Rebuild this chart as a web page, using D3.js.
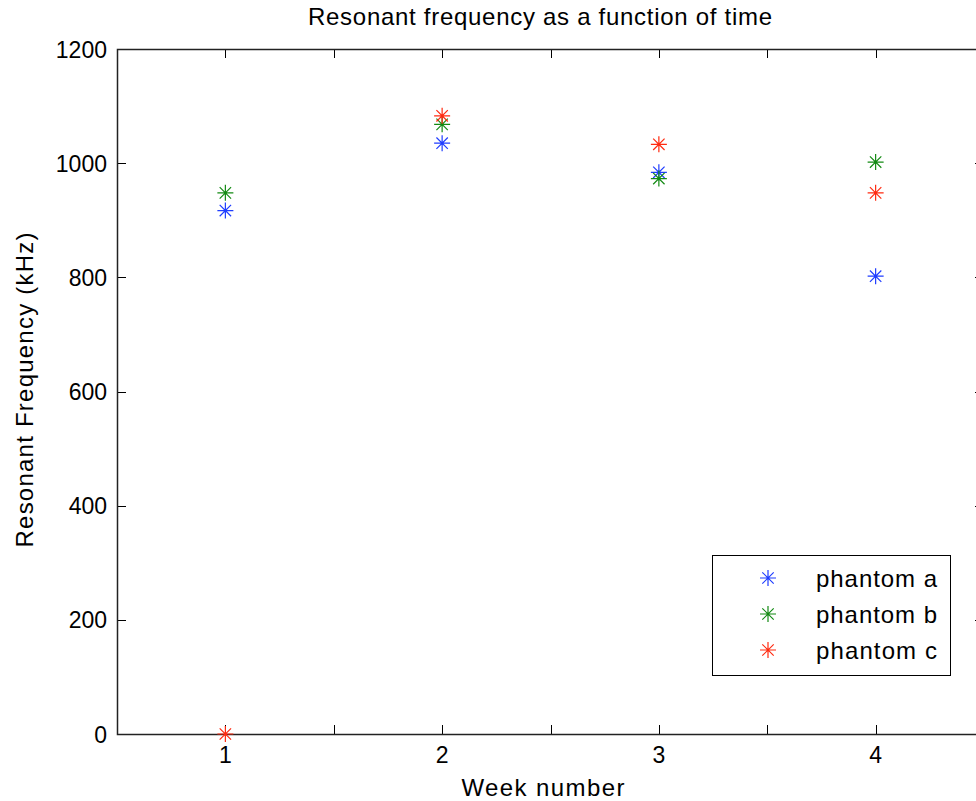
<!DOCTYPE html>
<html><head><meta charset="utf-8">
<script src="https://cdn.jsdelivr.net/npm/d3@7"></script>
<style>body{margin:0;background:#fff;} svg{display:block;font-family:"Liberation Sans",Arial,Helvetica,sans-serif;}</style>
</head><body>
<script>
const weeks = [1, 2, 3, 4];
const phantomA = [917, 1035, 984, 802];
const phantomB = [948, 1068, 973, 1002];
const phantomC = [0, 1083, 1033, 948];
const seriesNames = ["phantom a", "phantom b", "phantom c"];
const seriesColors = ["#1f3dff", "#138a13", "#ff2a10"];
const xTicks = [0.5, 1, 1.5, 2, 2.5, 3, 3.5, 4, 4.5];
const xLabelTicks = [1, 2, 3, 4];
const yTicks = [0, 200, 400, 600, 800, 1000, 1200];

const W = 976, H = 801;
const L = 117, R = 984, T = 49, B = 734;
const svg = d3.select("body").append("svg").attr("width", W).attr("height", H);
const x = d3.scaleLinear().domain([0.5, 4.5]).range([L, R]);
const y = d3.scaleLinear().domain([0, 1200]).range([B, T]);
const series = [phantomA, phantomB, phantomC];
const tickLen = 9, fs = 24, tfs = 23;

// ticks (inward, all four sides)
const g = svg.append("g").attr("stroke", "#000").attr("stroke-width", 1);
xTicks.forEach(v => {
  const px = Math.round(x(v)) + 0.5;
  g.append("line").attr("x1", px).attr("x2", px).attr("y1", B).attr("y2", B - tickLen);
  g.append("line").attr("x1", px).attr("x2", px).attr("y1", T).attr("y2", T + tickLen);
});
yTicks.forEach(v => {
  const py = Math.round(y(v)) + 0.5;
  g.append("line").attr("x1", L).attr("x2", L + tickLen).attr("y1", py).attr("y2", py);
  g.append("line").attr("x1", R).attr("x2", R - tickLen).attr("y1", py).attr("y2", py);
});
svg.append("rect").attr("x", L + 0.5).attr("y", T + 0.5).attr("width", R - L).attr("height", B - T)
  .attr("fill", "none").attr("stroke", "#222").attr("stroke-width", 1.5);

// tick labels
svg.append("g").selectAll("text").data(xLabelTicks).join("text")
  .attr("x", d => x(d)).attr("y", B + 29).attr("text-anchor", "middle")
  .attr("font-size", tfs).text(d => d);
svg.append("g").selectAll("text").data(yTicks).join("text")
  .attr("x", L - 10).attr("y", d => y(d) + 8.5).attr("text-anchor", "end")
  .attr("font-size", tfs).text(d => d);

// titles
svg.append("text").attr("x", 540).attr("y", 25).attr("text-anchor", "middle")
  .attr("font-size", fs).attr("textLength", 464).attr("lengthAdjust", "spacing")
  .text("Resonant frequency as a function of time");
svg.append("text").attr("x", 543).attr("y", 796).attr("text-anchor", "middle")
  .attr("font-size", fs).attr("textLength", 163).attr("lengthAdjust", "spacing")
  .text("Week number");
svg.append("text").attr("transform", `translate(33,390) rotate(-90)`)
  .attr("text-anchor", "middle").attr("font-size", fs)
  .attr("textLength", 315).attr("lengthAdjust", "spacing").text("Resonant Frequency (kHz)");

// asterisk marker
function star(sel, cx, cy, color) {
  const r = 8, d = 5.7;
  const p = `M${cx - r},${cy}L${cx + r},${cy}M${cx},${cy - r}L${cx},${cy + r}` +
            `M${cx - d},${cy - d}L${cx + d},${cy + d}M${cx - d},${cy + d}L${cx + d},${cy - d}`;
  sel.append("path").attr("d", p).attr("stroke", color).attr("stroke-width", 1.2).attr("fill", "none");
}
const pts = svg.append("g");
series.forEach((s, i) => {
  s.forEach((v, j) => star(pts, x(weeks[j]), y(v), seriesColors[i]));
});

// legend
const lg = svg.append("g");
lg.append("rect").attr("x", 712.5).attr("y", 555.5).attr("width", 238).attr("height", 120)
  .attr("fill", "#fff").attr("stroke", "#000").attr("stroke-width", 1);
seriesNames.forEach((n, i) => {
  const cy = 578 + i * 36;
  star(lg, 768, cy, seriesColors[i]);
  lg.append("text").attr("x", 816).attr("y", cy + 9).attr("font-size", fs)
    .attr("textLength", 121).attr("lengthAdjust", "spacing").text(n);
});
</script>
</body></html>
